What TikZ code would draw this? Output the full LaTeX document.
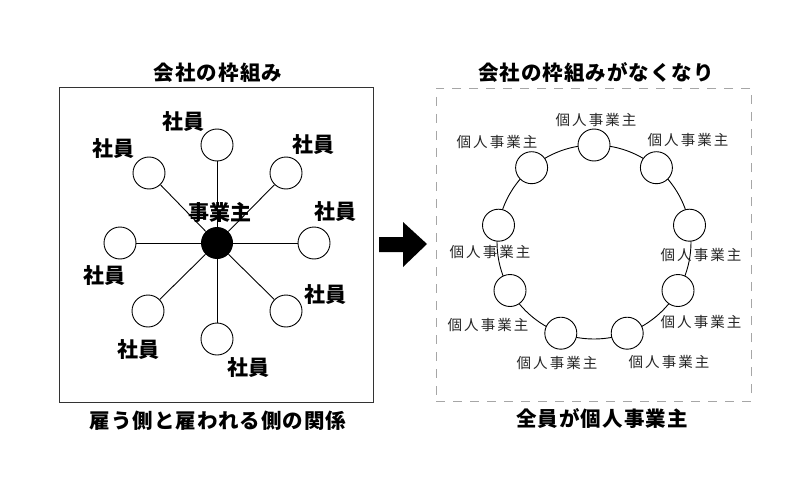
\documentclass[tikz,border=0pt]{standalone}
\usepackage{fontspec}
\setmainfont{Noto Sans CJK JP}
\tikzset{
 emp/.style={circle, draw, fill=white, minimum size=32pt, inner sep=0pt, line width=0.9pt},
 boss/.style={circle, fill=black, minimum size=32pt, inner sep=0pt},
 blab/.style={font=\fontsize{21}{21}\selectfont\bfseries, inner sep=0pt},
 ttl/.style={font=\fontsize{20.5}{20.5}\selectfont\bfseries\addfontfeature{LetterSpace=5}, inner sep=0pt},
 ilab/.style={font=\fontsize{14.5}{14.5}\selectfont\addfontfeature{LetterSpace=14}, inner sep=0pt, text=black!85},
 spoke/.style={line width=0.9pt},
}
\begin{document}
\begin{tikzpicture}[x=1pt,y=-1pt]
\useasboundingbox[fill=white] (0,0) rectangle (800,500);
% left panel
\node[ttl] (t1) at (218,73) {会社の枠組み};
\node[draw=black!80, line width=1pt, minimum width=314pt, minimum height=314pt, inner sep=0pt] (lbox) at (216,245) {};
\node[ttl] (b1) at (218,421) {雇う側と雇われる側の関係};
\node[boss] (c) at (217,243) {};
\node[emp] (e1) at (217,145) {};
\node[emp] (e2) at (149,173) {};
\node[emp] (e3) at (286,173) {};
\node[emp] (e4) at (314,243) {};
\node[emp] (e5) at (120,243) {};
\node[emp] (e6) at (148,311) {};
\node[emp] (e7) at (217,339) {};
\node[emp] (e8) at (286,311) {};
\foreach \e in {e1,e2,e3,e4,e5,e6,e7,e8} \draw[spoke] (c) -- (\e);
\node[blab] (l1) at (183,122) {社員};
\node[blab] (l2) at (113,149) {社員};
\node[blab] (l3) at (313,145) {社員};
\node[blab] (l4) at (335,212) {社員};
\node[blab] (l5) at (104,276) {社員};
\node[blab] (l6) at (325,295) {社員};
\node[blab] (l7) at (138,350) {社員};
\node[blab] (l8) at (248,368) {社員};
\node[blab] (lc) at (220,212) {事業主};
% arrow
\fill[black] (379,237) -- (403,237) -- (403,222) -- (427,244) -- (403,267) -- (403,252) -- (379,252) -- cycle;
% right panel
\node[ttl] (t2) at (596,72) {会社の枠組みがなくなり};
\node[draw=black!35, line width=0.9pt, dash pattern=on 9pt off 8pt, minimum width=315pt, minimum height=313pt, inner sep=0pt] (rbox) at (593.5,244.5) {};
\node[ttl] (b2) at (602,419) {全員が個人事業主};
\node[circle, draw, line width=0.9pt, minimum size=194pt, inner sep=0pt] (ring) at (594,242) {};
\node[emp] (p1) at (594,145) {};
\node[emp] (p2) at (656.4,167.7) {};
\node[emp] (p3) at (689.5,225.2) {};
\node[emp] (p4) at (678.0,290.5) {};
\node[emp] (p5) at (627.2,333.2) {};
\node[emp] (p6) at (560.8,333.2) {};
\node[emp] (p7) at (510.0,290.5) {};
\node[emp] (p8) at (498.5,225.2) {};
\node[emp] (p9) at (531.6,167.7) {};
\node[ilab] (q1) at (596,120) {個人事業主};
\node[ilab] (q9) at (497,142) {個人事業主};
\node[ilab] (q2) at (688,140) {個人事業主};
\node[ilab] (q3) at (701,255) {個人事業主};
\node[ilab] (q8) at (490,252) {個人事業主};
\node[ilab] (q4) at (701,322) {個人事業主};
\node[ilab] (q7) at (488,325) {個人事業主};
\node[ilab] (q6) at (557,363) {個人事業主};
\node[ilab] (q5) at (669,362) {個人事業主};
\end{tikzpicture}
\end{document}
